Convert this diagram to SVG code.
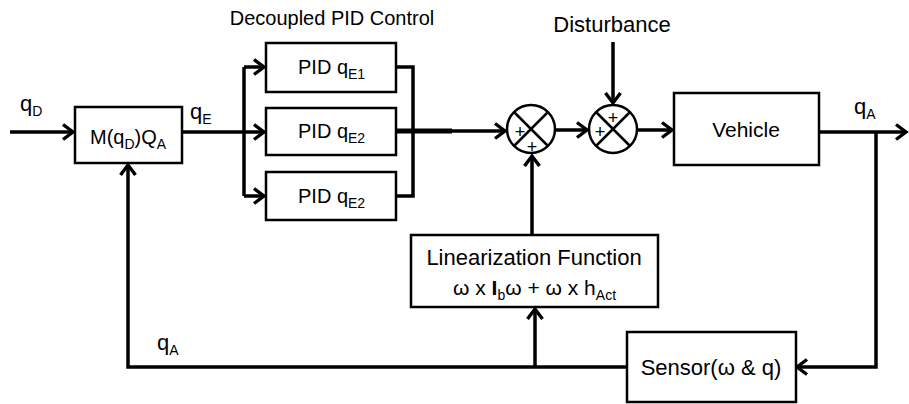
<svg xmlns="http://www.w3.org/2000/svg" width="909" height="404" viewBox="0 0 909 404">
<defs>
<marker id="arr" markerUnits="userSpaceOnUse" markerWidth="14" markerHeight="16" refX="11" refY="7" orient="auto" overflow="visible">
<path d="M1,-0.5 L11,7 L1,14.5" fill="none" stroke="#000" stroke-width="3.4" stroke-linejoin="miter"/>
</marker>
</defs>
<style>
.box{fill:#fff;stroke:#000;stroke-width:2.5}
.ln{fill:none;stroke:#000;stroke-width:3.5}
.th{fill:none;stroke:#000;stroke-width:5}
.t{font-family:"Liberation Sans",Arial,sans-serif;font-size:20px;fill:#000}
.b{font-size:22px}
.m{font-size:21px}
.s{font-size:14px}
.p{font-family:"Liberation Sans",Arial,sans-serif;font-size:18px;fill:#000}
</style>
<g id="connectors">
<path class="ln" d="M10,132 H73" marker-end="url(#arr)"/>
<path class="ln" d="M182,132 H244"/>
<path class="ln" d="M244,67 V196"/>
<path class="ln" d="M244,67 H264" marker-end="url(#arr)"/>
<path class="ln" d="M244,132 H264" marker-end="url(#arr)"/>
<path class="ln" d="M244,196 H264" marker-end="url(#arr)"/>
<path class="ln" d="M396,67 H413 V196 H396"/>
<path class="th" d="M396,131 H452"/>
<path class="ln" d="M452,131 H505" marker-end="url(#arr)"/>
<path class="ln" d="M555,130 H587" marker-end="url(#arr)"/>
<path class="ln" d="M613,42 V103" marker-end="url(#arr)"/>
<path class="ln" d="M637,130 H672" marker-end="url(#arr)"/>
<path class="ln" d="M819,132 H906" marker-end="url(#arr)"/>
<path class="ln" d="M876,132 V367 H797" marker-end="url(#arr)"/>
<path class="ln" d="M627,367 H128 V165" marker-end="url(#arr)"/>
<path class="ln" d="M535,367 V309" marker-end="url(#arr)"/>
<path class="ln" d="M532,235 V156" marker-end="url(#arr)"/>
</g>
<g id="labels">
<text class="t b" x="20" y="111">q<tspan class="s" dy="5">D</tspan></text>
<text class="t b" x="190" y="119">q<tspan class="s" dy="5">E</tspan></text>
<text class="t b" x="854" y="114">q<tspan class="s" dy="5">A</tspan></text>
<text class="t b" x="157" y="350">q<tspan class="s" dy="5">A</tspan></text>
<text class="t" x="332" y="25" text-anchor="middle">Decoupled PID Control</text>
<text class="t b" x="612" y="32" text-anchor="middle">Disturbance</text>
</g>
<g id="M">
<rect class="box" x="75" y="107" width="107" height="56"/>
<text class="t" x="90" y="144">M(q<tspan class="s" dy="5">D</tspan><tspan dy="-5">)Q</tspan><tspan class="s" dy="5">A</tspan></text>
</g>
<g id="pid1">
<rect class="box" x="266" y="43" width="130" height="49"/>
<text class="t" x="298" y="74">PID q<tspan class="s" dy="5">E1</tspan></text>
</g>
<g id="pid2">
<rect class="box" x="266" y="108" width="130" height="47"/>
<text class="t" x="298" y="138">PID q<tspan class="s" dy="5">E2</tspan></text>
</g>
<g id="pid3">
<rect class="box" x="266" y="172" width="130" height="48"/>
<text class="t" x="298" y="203">PID q<tspan class="s" dy="5">E2</tspan></text>
</g>
<g id="sum1">
<circle cx="531" cy="129" r="24" fill="#fff" stroke="#000" stroke-width="2.5"/>
<path d="M514,112 L548,146 M548,112 L514,146" stroke="#000" stroke-width="2.5"/>
<text class="p" x="520" y="138" text-anchor="middle">+</text>
<text class="p" x="532" y="153" text-anchor="middle">+</text>
</g>
<g id="sum2">
<circle cx="613" cy="129" r="24" fill="#fff" stroke="#000" stroke-width="2.5"/>
<path d="M596,112 L630,146 M630,112 L596,146" stroke="#000" stroke-width="2.5"/>
<text class="p" x="613" y="124" text-anchor="middle">+</text>
<text class="p" x="600" y="138" text-anchor="middle">+</text>
</g>
<g id="vehicle">
<rect class="box" x="674" y="93" width="145" height="72"/>
<text class="t m" x="746" y="137" text-anchor="middle">Vehicle</text>
</g>
<g id="linearization">
<rect class="box" x="411" y="235" width="247" height="72"/>
<text class="t b" x="534" y="265" text-anchor="middle">Linearization Function</text>
<text class="t m" x="453" y="295">ω x <tspan font-weight="bold">I</tspan><tspan class="s" dy="5">b</tspan><tspan dy="-5">ω + ω x h</tspan><tspan class="s" dy="5">Act</tspan></text>
</g>
<g id="sensor">
<rect class="box" x="627" y="332" width="169" height="70"/>
<text class="t b" x="711" y="375" text-anchor="middle">Sensor(ω &amp; q)</text>
</g>
</svg>
